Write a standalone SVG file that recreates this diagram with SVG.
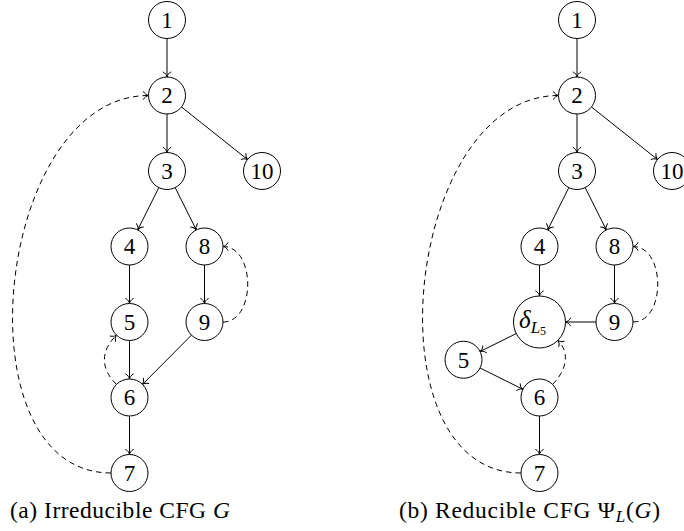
<svg xmlns="http://www.w3.org/2000/svg" width="684" height="531" viewBox="0 0 684 531">
<style>
.n circle{fill:#fff;stroke:#000;stroke-width:1}
.n text{font-family:"Liberation Serif","DejaVu Serif",serif;font-size:23px;text-anchor:middle;fill:#000}
.e path{fill:none;stroke:#000;stroke-width:1}
.e .d{stroke-dasharray:5.5,4}
.cap{font-family:"Liberation Serif","DejaVu Serif",serif;font-size:23.5px;fill:#000}
</style>
<defs>
<marker id="ah" viewBox="-6 -5 7 10" refX="0" refY="0" markerWidth="7" markerHeight="10" markerUnits="userSpaceOnUse" orient="auto">
<path d="M-5,-3.8 C-4,-1.7 -1.8,-0.4 0,0 C-1.8,0.4 -4,1.7 -5,3.8" fill="none" stroke="#000" stroke-width="1" stroke-linecap="round"/>
</marker>
</defs>
<g id="connectors" class="e">
<path d="M167,38.5 L167,77" marker-end="url(#ah)"/>
<path d="M167,114 L167,152.5" marker-end="url(#ah)"/>
<path d="M181.5,107 L247.5,159.5" marker-end="url(#ah)"/>
<path d="M158.8,187.6 L137.7,229.9" marker-end="url(#ah)"/>
<path d="M175.2,187.6 L196.3,229.9" marker-end="url(#ah)"/>
<path d="M129.5,265 L129.5,303.5" marker-end="url(#ah)"/>
<path d="M204.5,265 L204.5,303.5" marker-end="url(#ah)"/>
<path d="M129.5,340.5 L129.5,379" marker-end="url(#ah)"/>
<path d="M191.5,335.1 L142.5,384.4" marker-end="url(#ah)"/>
<path d="M129.5,416 L129.5,454.5" marker-end="url(#ah)"/>
<path class="d" d="M111,473 C-43,473 -5.5,95.5 148.5,95.5" marker-end="url(#ah)"/>
<path class="d" d="M223,322 C256,322 256,246.5 223,246.5" marker-end="url(#ah)"/>
<path class="d" d="M116.4,384.4 C100.4,368.4 100.4,351.1 116.4,335.1" marker-end="url(#ah)"/>

<path d="M577,38.5 L577,77" marker-end="url(#ah)"/>
<path d="M577,114 L577,152.5" marker-end="url(#ah)"/>
<path d="M591.5,107 L657.5,159.5" marker-end="url(#ah)"/>
<path d="M568.8,187.6 L547.7,229.9" marker-end="url(#ah)"/>
<path d="M585.2,187.6 L606.3,229.9" marker-end="url(#ah)"/>
<path d="M539.5,265 L539.5,296" marker-end="url(#ah)"/>
<path d="M614.5,265 L614.5,303.5" marker-end="url(#ah)"/>
<path d="M596,322 L565.5,322" marker-end="url(#ah)"/>
<path d="M516.2,333.6 L480.1,351.5" marker-end="url(#ah)"/>
<path d="M480.1,368 L522.9,389.3" marker-end="url(#ah)"/>
<path d="M539.5,416 L539.5,454.5" marker-end="url(#ah)"/>
<path class="d" d="M521,473 C367,473 404.5,95.5 558.5,95.5" marker-end="url(#ah)"/>
<path class="d" d="M633,322 C666,322 666,246.5 633,246.5" marker-end="url(#ah)"/>
<path class="d" d="M552.6,384.4 C565.6,371.4 570.9,353.4 557.9,340.4" marker-end="url(#ah)"/>
</g>
<g id="a1" class="n"><circle cx="167" cy="20" r="18.5"/><text x="167" y="27.8">1</text></g>
<g id="a2" class="n"><circle cx="167" cy="95.5" r="18.5"/><text x="167" y="103.3">2</text></g>
<g id="a3" class="n"><circle cx="167" cy="171" r="18.5"/><text x="167" y="178.8">3</text></g>
<g id="a10" class="n"><circle cx="262" cy="171" r="18.5"/><text x="262" y="178.8">10</text></g>
<g id="a4" class="n"><circle cx="129.5" cy="246.5" r="18.5"/><text x="129.5" y="254.3">4</text></g>
<g id="a8" class="n"><circle cx="204.5" cy="246.5" r="18.5"/><text x="204.5" y="254.3">8</text></g>
<g id="a5" class="n"><circle cx="129.5" cy="322" r="18.5"/><text x="129.5" y="329.8">5</text></g>
<g id="a9" class="n"><circle cx="204.5" cy="322" r="18.5"/><text x="204.5" y="329.8">9</text></g>
<g id="a6" class="n"><circle cx="129.5" cy="397.5" r="18.5"/><text x="129.5" y="405.3">6</text></g>
<g id="a7" class="n"><circle cx="129.5" cy="473" r="18.5"/><text x="129.5" y="480.8">7</text></g>

<g id="b1" class="n"><circle cx="577" cy="20" r="18.5"/><text x="577" y="27.8">1</text></g>
<g id="b2" class="n"><circle cx="577" cy="95.5" r="18.5"/><text x="577" y="103.3">2</text></g>
<g id="b3" class="n"><circle cx="577" cy="171" r="18.5"/><text x="577" y="178.8">3</text></g>
<g id="b10" class="n"><circle cx="672" cy="171" r="18.5"/><text x="672" y="178.8">10</text></g>
<g id="b4" class="n"><circle cx="539.5" cy="246.5" r="18.5"/><text x="539.5" y="254.3">4</text></g>
<g id="b8" class="n"><circle cx="614.5" cy="246.5" r="18.5"/><text x="614.5" y="254.3">8</text></g>
<g id="bd" class="n"><circle cx="539.5" cy="322" r="26"/><text x="519" y="327.5" style="text-anchor:start"><tspan font-style="italic" font-size="25">δ</tspan><tspan font-style="italic" font-size="17" dy="5.5">L</tspan><tspan font-size="12" dy="2">5</tspan></text></g>
<g id="b9" class="n"><circle cx="614.5" cy="322" r="18.5"/><text x="614.5" y="329.8">9</text></g>
<g id="b5" class="n"><circle cx="463.5" cy="359.75" r="18.5"/><text x="463.5" y="367.55">5</text></g>
<g id="b6" class="n"><circle cx="539.5" cy="397.5" r="18.5"/><text x="539.5" y="405.3">6</text></g>
<g id="b7" class="n"><circle cx="539.5" cy="473" r="18.5"/><text x="539.5" y="480.8">7</text></g>

<text class="cap" x="10" y="518" textLength="220" lengthAdjust="spacing">(a) Irreducible CFG <tspan font-style="italic">G</tspan></text>
<text class="cap" x="399" y="518" textLength="261" lengthAdjust="spacing">(b) Reducible CFG Ψ<tspan font-style="italic" font-size="17" dy="4">L</tspan><tspan dy="-4">(</tspan><tspan font-style="italic">G</tspan>)</text>
</svg>
